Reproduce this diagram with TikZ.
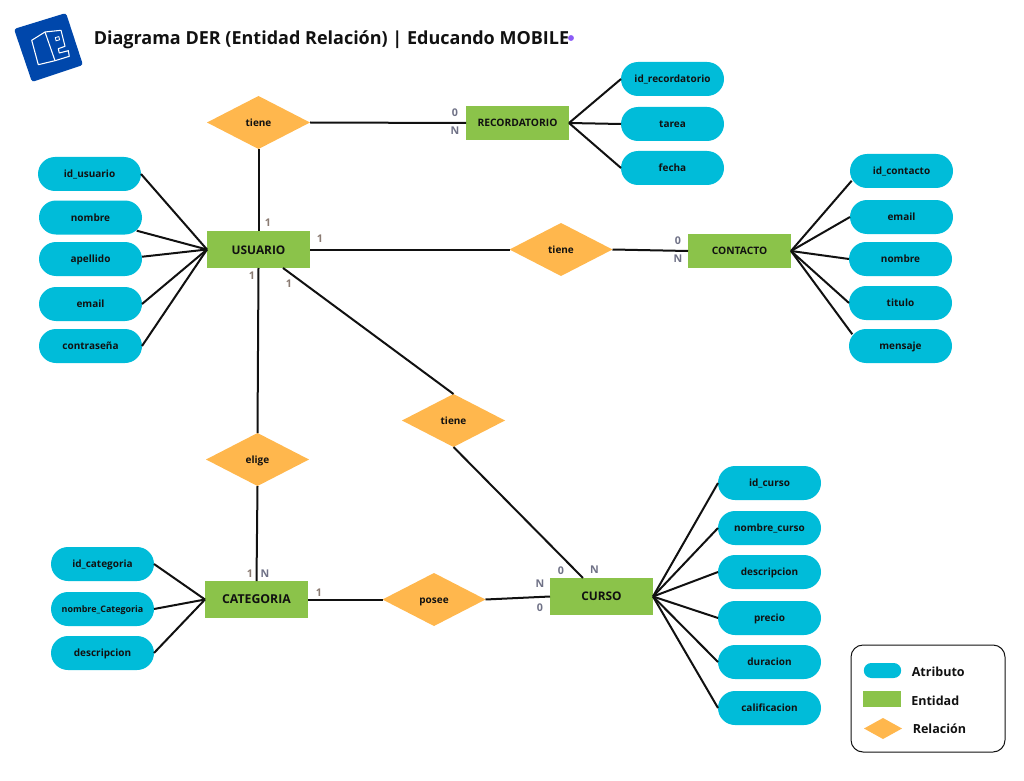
\documentclass[tikz,border=0pt]{standalone}
\usepackage{fontspec}
\setmainfont{Open Sans}
\usetikzlibrary{shapes.geometric}
\definecolor{attr}{HTML}{00BCD9}
\definecolor{ent}{HTML}{8BC34A}
\definecolor{rel}{HTML}{FFB74D}
\definecolor{logoblue}{HTML}{0047AB}
\definecolor{ink}{HTML}{111111}
\definecolor{cardone}{HTML}{8A7B72}
\definecolor{cardn}{HTML}{6F7186}
\definecolor{dotc}{HTML}{8B5CF6}
\tikzset{
  x=0.75pt,y=-0.75pt,
  attrnode/.style={fill=attr,rounded corners=12.75pt,minimum width=77.25pt,minimum height=25.5pt,inner sep=0pt,outer sep=0pt,text height=5.6pt,text depth=0pt,font=\fontsize{7.5}{9}\selectfont\bfseries,text=ink},
  entnode/.style={fill=ent,minimum width=77.25pt,minimum height=27.75pt,inner sep=0pt,outer sep=0pt,text height=7.2pt,text depth=0pt,font=\fontsize{8.9}{10}\selectfont\bfseries,text=ink},
  entsmall/.style={entnode,minimum height=25.5pt,text height=5pt,font=\fontsize{7.7}{9}\selectfont\bfseries},
  relnode/.style={diamond,fill=rel,aspect=1.94,minimum width=77.25pt,minimum height=39.75pt,inner sep=0pt,outer sep=0pt,text height=5.6pt,text depth=0pt,font=\fontsize{7.5}{9}\selectfont\bfseries,text=ink},
  link/.style={draw=ink,line width=1.5pt},
  cardo/.style={inner sep=0pt,font=\fontsize{8}{9}\selectfont\bfseries,text=cardone},
  cardb/.style={inner sep=0pt,font=\fontsize{8}{9}\selectfont\bfseries,text=cardn},
  legendtext/.style={inner sep=0pt,anchor=west,font=\fontsize{9.4}{11}\selectfont\bfseries,text=ink},
}
\begin{document}
\begin{tikzpicture}
\useasboundingbox (0,0) rectangle (1024,781);
% logo
\fill[logoblue,rounded corners=2pt] (14,29) -- (66,13) -- (83,65) -- (32,82) -- cycle;
\draw[white,line width=0.8pt,line join=round] (31.7,40.3) -- (45,32) -- (61,30.3) -- (65,46.3) -- (58.3,48.7) -- (59.3,53) -- (68.3,50.7) -- (69.3,56.3) -- (55,60.7) -- (38.3,64.7) -- cycle;
\draw[white,line width=0.8pt] (45,32) -- (55,60.7);
\draw[white,line width=0.6pt] (55.3,37.6) -- (58.8,36.6) -- (59.6,39.8) -- (56.1,40.8) -- cycle;
% title
\node[anchor=west,inner sep=0pt,font=\fontsize{13.5}{16}\selectfont\bfseries,text=ink] (title) at (93.5,39.5) {Diagrama DER (Entidad Relación) | Educando MOBILE};
\fill[dotc] (571,38) circle (2.2pt);
% entities
\node[entnode] (usu) at (258.5,249.5) {USUARIO};
\node[entsmall] (rec) at (517.5,123) {RECORDATORIO};
\node[entsmall] (con) at (739.5,251) {CONTACTO};
\node[entnode,text height=5.7pt,font=\fontsize{9.2}{10}\selectfont\bfseries] (cat) at (256.5,599.5) {CATEGORIA};
\node[entnode,text height=5.7pt] (cur) at (601.5,596.5) {CURSO};
% relations
\node[relnode] (r1) at (258.5,122.5) {tiene};
\node[relnode] (r2) at (561,249.5) {tiene};
\node[relnode] (r3) at (453.5,420.5) {tiene};
\node[relnode] (r4) at (257.5,459.5) {elige};
\node[relnode] (r5) at (434,599.5) {posee};
% attributes
\node[attrnode] (u1) at (89.5,174) {id\_usuario};
\node[attrnode] (u2) at (90.5,217.5) {nombre};
\node[attrnode] (u3) at (90.5,259) {apellido};
\node[attrnode] (u4) at (90.5,304) {email};
\node[attrnode] (u5) at (90.5,346) {contraseña};
\node[attrnode] (a1) at (672.5,79) {id\_recordatorio};
\node[attrnode] (a2) at (672.5,124) {tarea};
\node[attrnode] (a3) at (672.5,168) {fecha};
\node[attrnode] (c1) at (901.5,171) {id\_contacto};
\node[attrnode] (c2) at (901.5,217) {email};
\node[attrnode] (c3) at (900.5,259) {nombre};
\node[attrnode] (c4) at (900.5,303) {titulo};
\node[attrnode] (c5) at (900.5,346) {mensaje};
\node[attrnode] (k1) at (102.5,564) {id\_categoria};
\node[attrnode,font=\fontsize{6.7}{9}\selectfont\bfseries] (k2) at (102.5,609) {nombre\_Categoria};
\node[attrnode] (k3) at (102.5,653) {descripcion};
\node[attrnode] (p1) at (769.5,483) {id\_curso};
\node[attrnode] (p2) at (769.5,528) {nombre\_curso};
\node[attrnode] (p3) at (769.5,572) {descripcion};
\node[attrnode] (p4) at (769.5,618) {precio};
\node[attrnode] (p5) at (769.5,662) {duracion};
\node[attrnode] (p6) at (769.5,708) {calificacion};
% connectors
\foreach \n in {u1,u4,u5} \draw[link] (\n.east) -- (usu.west);
\draw[link] ([shift={(34.65pt,-9.9pt)}]u2.center) -- (usu.west);
\draw[link] ([yshift=1.7pt]u3.east) -- (usu.west);
\foreach \n in {a1,a2,a3} \draw[link] (rec.east) -- (\n.west);
\foreach \n in {c2,c3,c4} \draw[link] (con.east) -- (\n.west);
\draw[link] (con.east) -- ([shift={(-37.35pt,-7.3pt)}]c1.center);
\draw[link] (con.east) -- ([shift={(-36.15pt,8.8pt)}]c5.center);
\foreach \n in {k1,k2,k3} \draw[link] (\n.east) -- (cat.west);
\foreach \n in {p1,p2,p3,p4,p5,p6} \draw[link] (cur.east) -- (\n.west);
\draw[link] (r1.south) -- (usu.north);
\draw[link] (r1.east) -- (rec.west);
\draw[link] (usu.east) -- (r2.west);
\draw[link] (r2.east) -- (con.west);
\draw[link] ([xshift=18.4pt]usu.south) -- (r3.north);
\draw[link] (r3.south) -- ([xshift=-13.9pt]cur.north);
\draw[link] (usu.south) -- (r4.north);
\draw[link] (r4.south) -- (cat.north);
\draw[link] (cat.east) -- (r5.west);
\draw[link] (r5.east) -- (cur.west);
% cardinalities
\node[cardo] (l1) at (268,223) {1};
\node[cardo] (l2) at (320,238.5) {1};
\node[cardo] (l3) at (252,275.5) {1};
\node[cardo] (l4) at (289,284) {1};
\node[cardb] (l5) at (455,113) {0};
\node[cardb] (l6) at (455,131) {N};
\node[cardb] (l7) at (678,241) {0};
\node[cardb] (l8) at (678,258.5) {N};
\node[cardo] (l9) at (250,573.5) {1};
\node[cardb] (l10) at (265,573.5) {N};
\node[cardo] (l11) at (319,593) {1};
\node[cardb] (l12) at (561,570.5) {0};
\node[cardb] (l13) at (594.5,569.5) {N};
\node[cardb] (l14) at (540,584) {N};
\node[cardb] (l15) at (540,608) {0};
% legend
\draw[draw=ink,line width=0.75pt,fill=white,rounded corners=9pt] (851,645) rectangle (1005,752);
\node[attrnode,minimum width=28pt,minimum height=11.25pt,rounded corners=5.6pt] (leg1) at (882.5,670.5) {};
\node[entnode,minimum width=28.5pt,minimum height=12pt] (leg2) at (882,699) {};
\node[relnode,minimum width=28.5pt,minimum height=15.75pt,aspect=1.8] (leg3) at (883,728.5) {};
\node[legendtext] (t1) at (911.5,672) {Atributo};
\node[legendtext] (t2) at (911,701) {Entidad};
\node[legendtext] (t3) at (912.5,729) {Relación};
\end{tikzpicture}
\end{document}
